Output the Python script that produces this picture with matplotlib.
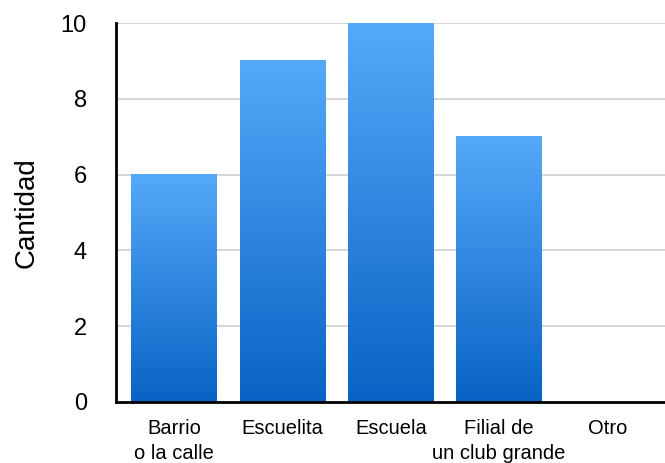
import numpy as np
import matplotlib
matplotlib.use("Agg")
import matplotlib.pyplot as plt
from matplotlib.colors import LinearSegmentedColormap

categories = ["Barrio\no la calle", "Escuelita", "Escuela", "Filial de\nun club grande", "Otro"]
values = [6, 9, 10, 7, 0]
yticks = [0, 2, 4, 6, 8, 10]

plt.rcParams["font.family"] = ["Liberation Sans", "DejaVu Sans"]

fig = plt.figure(figsize=(6.65, 4.63), dpi=100)
ax = fig.add_axes([116 / 665, 61 / 463, 1 - 116 / 665, (402 - 23) / 463])

x = np.arange(len(categories))
width = 0.79
bars = ax.bar(x, values, width=width, color="none", zorder=2)

cmap = LinearSegmentedColormap.from_list("blue_grad", ["#0863c4", "#55a9f9"])
grad = np.linspace(0, 1, 256).reshape(-1, 1)
for b, v in zip(bars, values):
    if v <= 0:
        continue
    x0 = b.get_x()
    ax.imshow(grad, cmap=cmap, origin="lower", aspect="auto",
              extent=(x0, x0 + b.get_width(), 0, v), zorder=2,
              interpolation="bilinear")

ax.set_xlim(-0.535, len(categories) - 1 + 0.53)
ax.set_ylim(0, 10)
ax.set_yticks(yticks)
ax.set_xticks(x)
ax.set_xticklabels(categories, fontsize=14.5, linespacing=1.45)
ax.tick_params(axis="y", length=0, pad=21, labelsize=17)
ax.tick_params(axis="x", length=0, pad=12)
ax.set_ylabel("Cantidad", fontsize=20, labelpad=15)

ax.yaxis.grid(True, color="#d2d2d2", linewidth=1.3, zorder=0)
ax.set_axisbelow(True)
for side in ("top", "right"):
    ax.spines[side].set_visible(False)
for side in ("left", "bottom"):
    ax.spines[side].set_linewidth(2)
    ax.spines[side].set_color("black")
    ax.spines[side].set_zorder(3)

fig.savefig("out.png", dpi=100)
